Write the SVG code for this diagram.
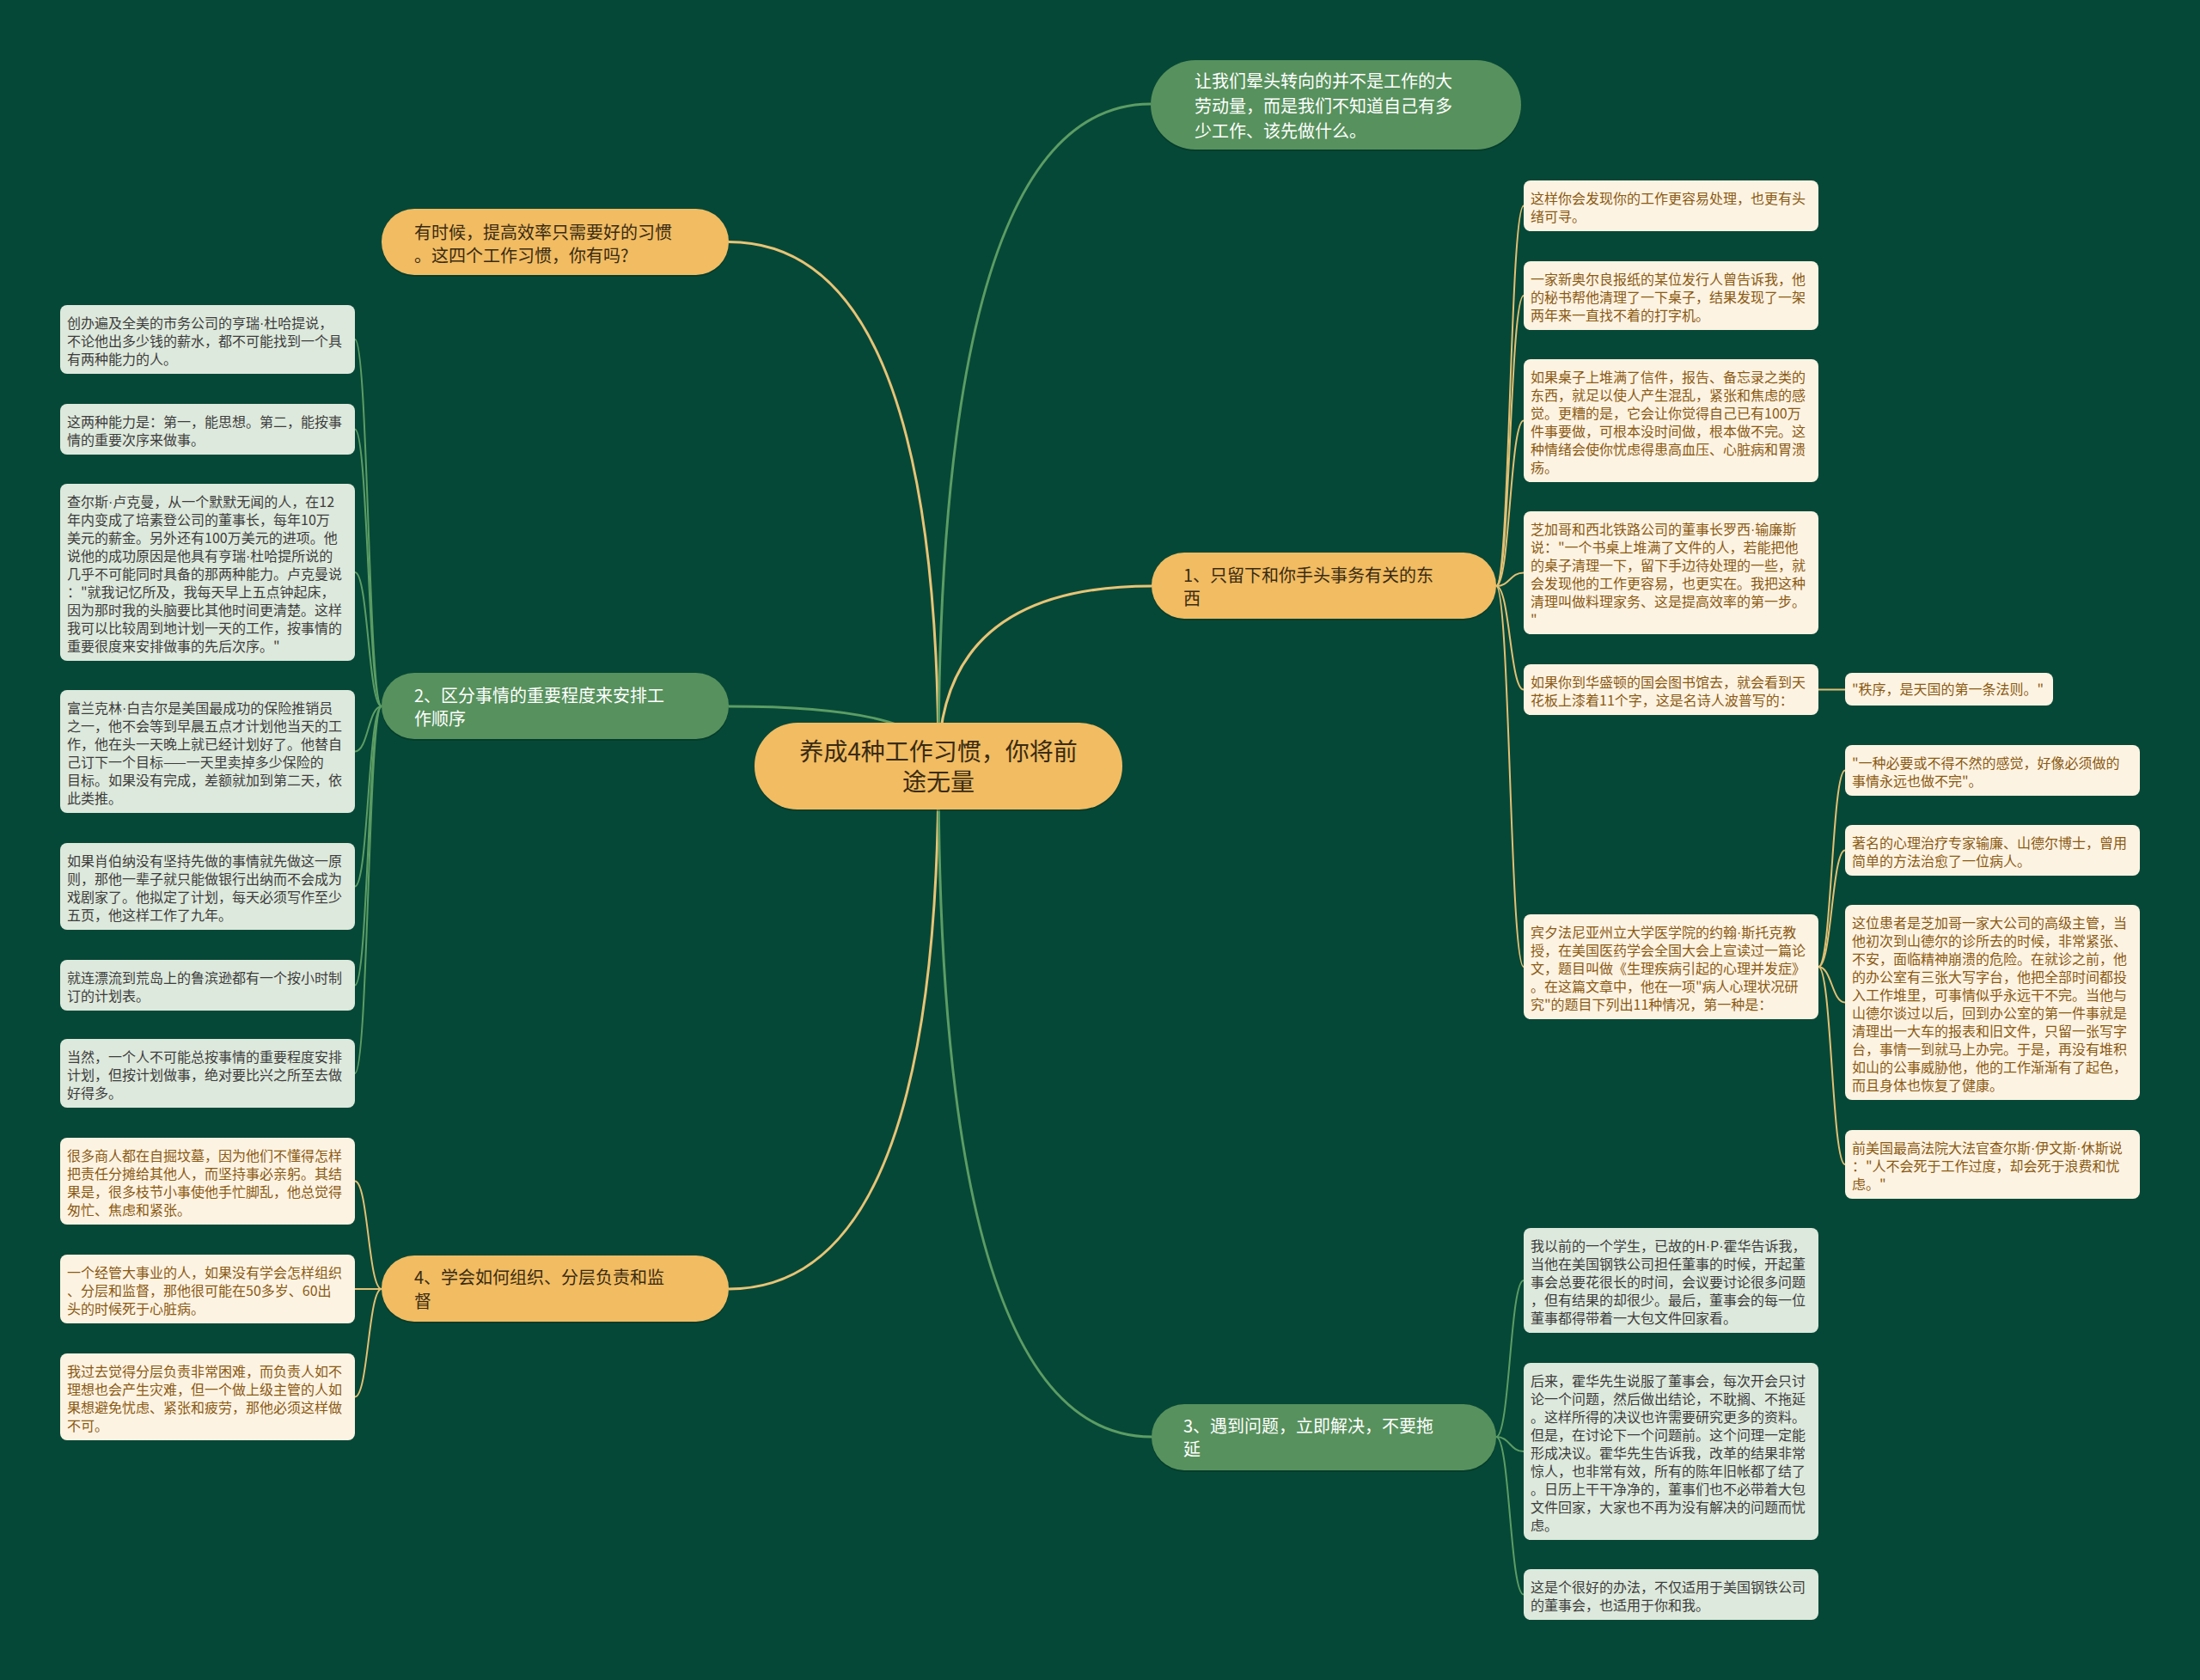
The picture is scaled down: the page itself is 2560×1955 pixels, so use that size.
<svg xmlns="http://www.w3.org/2000/svg" width="2560" height="1955" viewBox="0 0 2560 1955">
<style>
.bg{fill:#064837}
.nO{fill:#f1bc62}
.nG{fill:#57915d}
.sh{fill:#03301f;opacity:0.45}
.bxG{fill:#dde9dc}
.bxC{fill:#fdf3e2}
text{font-family:"Noto Sans CJK SC","Noto Sans",sans-serif}
.d{font-family:"Liberation Sans",sans-serif}
.tM{font-size:20px;fill:#3a2b12}
.tW{font-size:20px;fill:#ffffff}
.tR{font-size:28px;fill:#3a2b12}
.tG{font-size:16px;fill:#3d3d3d}
.tC{font-size:16px;fill:#8a5a14}
.cY{fill:none;stroke:#e7c476;stroke-width:3}
.cG{fill:none;stroke:#5c9d64;stroke-width:3}
.lY{fill:none;stroke:#e2c074;stroke-width:2}
.lG{fill:none;stroke:#5c9d64;stroke-width:2}
</style>
<rect class="bg" x="0" y="0" width="2560" height="1955"/>
<g id="connectors">
<path class="cY" d="M1092,891 Q1092,281.5 848,281.5"/>
<path class="cG" d="M1092,891 Q1092,121 1339,121"/>
<path class="cY" d="M1092,891 Q1092,682 1340,682"/>
<path class="cG" d="M1092,891 Q1092,822 848,822"/>
<path class="cY" d="M1092,891 Q1092,1500 848,1500"/>
<path class="cG" d="M1092,891 Q1092,1672 1340,1672"/>
<path class="lG" d="M444,822 C428.5,822 428.5,395 413,395"/>
<path class="lG" d="M444,822 C428.5,822 428.5,499.5 413,499.5"/>
<path class="lG" d="M444,822 C428.5,822 428.5,666 413,666"/>
<path class="lG" d="M444,822 C428.5,822 428.5,874.5 413,874.5"/>
<path class="lG" d="M444,822 C428.5,822 428.5,1031.5 413,1031.5"/>
<path class="lG" d="M444,822 C428.5,822 428.5,1146.5 413,1146.5"/>
<path class="lG" d="M444,822 C428.5,822 428.5,1249 413,1249"/>
<path class="lY" d="M444,1500 C428.5,1500 428.5,1374.5 413,1374.5"/>
<path class="lY" d="M444,1500 C428.5,1500 428.5,1500 413,1500"/>
<path class="lY" d="M444,1500 C428.5,1500 428.5,1625.5 413,1625.5"/>
<path class="lY" d="M1741,682 C1757,682 1757,239.5 1773,239.5"/>
<path class="lY" d="M1741,682 C1757,682 1757,344 1773,344"/>
<path class="lY" d="M1741,682 C1757,682 1757,489.5 1773,489.5"/>
<path class="lY" d="M1741,682 C1757,682 1757,666.5 1773,666.5"/>
<path class="lY" d="M1741,682 C1757,682 1757,802.5 1773,802.5"/>
<path class="lY" d="M1741,682 C1757,682 1757,1125 1773,1125"/>
<path class="lY" d="M2116,802.5 L2147,802.5"/>
<path class="lY" d="M2116,1125 C2131.5,1125 2131.5,896.5 2147,896.5"/>
<path class="lY" d="M2116,1125 C2131.5,1125 2131.5,989.5 2147,989.5"/>
<path class="lY" d="M2116,1125 C2131.5,1125 2131.5,1166.5 2147,1166.5"/>
<path class="lY" d="M2116,1125 C2131.5,1125 2131.5,1355 2147,1355"/>
<path class="lG" d="M1741,1672 C1757,1672 1757,1490 1773,1490"/>
<path class="lG" d="M1741,1672 C1757,1672 1757,1689 1773,1689"/>
<path class="lG" d="M1741,1672 C1757,1672 1757,1855.5 1773,1855.5"/>
</g>

<g id="root">
<rect class="sh" x="878" y="843" width="428" height="101" rx="50"/>
<rect class="nO" x="878" y="841" width="428" height="101" rx="50"/>
<text class="tR" x="1092" y="885" text-anchor="middle">养成4种工作习惯，你将前</text>
<text class="tR" x="1092" y="920" text-anchor="middle">途无量</text>
</g>

<g id="n-top">
<rect class="sh" x="1339" y="72" width="431" height="104" rx="52"/>
<rect class="nG" x="1339" y="70" width="431" height="104" rx="52"/>
<text class="tW" x="1390" y="102">让我们晕头转向的并不是工作的大</text>
<text class="tW" x="1390" y="131">劳动量，而是我们不知道自己有多</text>
<text class="tW" x="1390" y="160">少工作、该先做什么。</text>
</g>

<g id="n-intro">
<rect class="sh" x="444" y="245" width="404" height="77" rx="38"/>
<rect class="nO" x="444" y="243" width="404" height="77" rx="38"/>
<text class="tM" x="482" y="278">有时候，提高效率只需要好的习惯</text>
<text class="tM" x="482" y="305">。这四个工作习惯，你有吗?</text>
</g>

<g id="n1">
<rect class="sh" x="1340" y="645" width="401" height="77" rx="38"/>
<rect class="nO" x="1340" y="643" width="401" height="77" rx="38"/>
<text class="tM" x="1377" y="677">1、只留下和你手头事务有关的东</text>
<text class="tM" x="1377" y="704">西</text>
</g>

<g id="n2">
<rect class="sh" x="444" y="785" width="404" height="77" rx="38"/>
<rect class="nG" x="444" y="783" width="404" height="77" rx="38"/>
<text class="tW" x="482" y="817">2、区分事情的重要程度来安排工</text>
<text class="tW" x="482" y="844">作顺序</text>
</g>

<g id="n4">
<rect class="sh" x="444" y="1463" width="404" height="77" rx="38"/>
<rect class="nO" x="444" y="1461" width="404" height="77" rx="38"/>
<text class="tM" x="482" y="1494">4、学会如何组织、分层负责和监</text>
<text class="tM" x="482" y="1522">督</text>
</g>

<g id="n3">
<rect class="sh" x="1340" y="1636" width="401" height="77" rx="38"/>
<rect class="nG" x="1340" y="1634" width="401" height="77" rx="38"/>
<text class="tW" x="1377" y="1667">3、遇到问题，立即解决，不要拖</text>
<text class="tW" x="1377" y="1694">延</text>
</g>

<g id="L1">
<rect class="bxG" x="70" y="355" width="343" height="80" rx="8"/>
<text class="tG" x="78" y="382">创办遍及全美的市务公司的亨瑞<tspan class="d">·</tspan>杜哈提说，</text>
<text class="tG" x="78" y="403">不论他出多少钱的薪水，都不可能找到一个具</text>
<text class="tG" x="78" y="424">有两种能力的人。</text>
</g>
<g id="L2">
<rect class="bxG" x="70" y="470" width="343" height="59" rx="8"/>
<text class="tG" x="78" y="497">这两种能力是：第一，能思想。第二，能按事</text>
<text class="tG" x="78" y="518">情的重要次序来做事。</text>
</g>
<g id="L3">
<rect class="bxG" x="70" y="563" width="343" height="206" rx="8"/>
<text class="tG" x="78" y="590">查尔斯<tspan class="d">·</tspan>卢克曼，从一个默默无闻的人，在12</text>
<text class="tG" x="78" y="611">年内变成了培素登公司的董事长，每年10万</text>
<text class="tG" x="78" y="632">美元的薪金。另外还有100万美元的进项。他</text>
<text class="tG" x="78" y="653">说他的成功原因是他具有亨瑞<tspan class="d">·</tspan>杜哈提所说的</text>
<text class="tG" x="78" y="674">几乎不可能同时具备的那两种能力。卢克曼说</text>
<text class="tG" x="78" y="695">："就我记忆所及，我每天早上五点钟起床，</text>
<text class="tG" x="78" y="716">因为那时我的头脑要比其他时间更清楚。这样</text>
<text class="tG" x="78" y="737">我可以比较周到地计划一天的工作，按事情的</text>
<text class="tG" x="78" y="758">重要很度来安排做事的先后次序。"</text>
</g>
<g id="L4">
<rect class="bxG" x="70" y="803" width="343" height="143" rx="8"/>
<text class="tG" x="78" y="830">富兰克林<tspan class="d">·</tspan>白吉尔是美国最成功的保险推销员</text>
<text class="tG" x="78" y="851">之一，他不会等到早晨五点才计划他当天的工</text>
<text class="tG" x="78" y="872">作，他在头一天晚上就已经计划好了。他替自</text>
<text class="tG" x="78" y="893">己订下一个目标——一天里卖掉多少保险的</text>
<text class="tG" x="78" y="914">目标。如果没有完成，差额就加到第二天，依</text>
<text class="tG" x="78" y="935">此类推。</text>
</g>
<g id="L5">
<rect class="bxG" x="70" y="981" width="343" height="101" rx="8"/>
<text class="tG" x="78" y="1008">如果肖伯纳没有坚持先做的事情就先做这一原</text>
<text class="tG" x="78" y="1029">则，那他一辈子就只能做银行出纳而不会成为</text>
<text class="tG" x="78" y="1050">戏剧家了。他拟定了计划，每天必须写作至少</text>
<text class="tG" x="78" y="1071">五页，他这样工作了九年。</text>
</g>
<g id="L6">
<rect class="bxG" x="70" y="1117" width="343" height="59" rx="8"/>
<text class="tG" x="78" y="1144">就连漂流到荒岛上的鲁滨逊都有一个按小时制</text>
<text class="tG" x="78" y="1165">订的计划表。</text>
</g>
<g id="L7">
<rect class="bxG" x="70" y="1209" width="343" height="80" rx="8"/>
<text class="tG" x="78" y="1236">当然，一个人不可能总按事情的重要程度安排</text>
<text class="tG" x="78" y="1257">计划，但按计划做事，绝对要比兴之所至去做</text>
<text class="tG" x="78" y="1278">好得多。</text>
</g>

<g id="A1">
<rect class="bxC" x="70" y="1324" width="343" height="101" rx="8"/>
<text class="tC" x="78" y="1351">很多商人都在自掘坟墓，因为他们不懂得怎样</text>
<text class="tC" x="78" y="1372">把责任分摊给其他人，而坚持事必亲躬。其结</text>
<text class="tC" x="78" y="1393">果是，很多枝节小事使他手忙脚乱，他总觉得</text>
<text class="tC" x="78" y="1414">匆忙、焦虑和紧张。</text>
</g>
<g id="A2">
<rect class="bxC" x="70" y="1460" width="343" height="80" rx="8"/>
<text class="tC" x="78" y="1487">一个经管大事业的人，如果没有学会怎样组织</text>
<text class="tC" x="78" y="1508">、分层和监督，那他很可能在50多岁、60出</text>
<text class="tC" x="78" y="1529">头的时候死于心脏病。</text>
</g>
<g id="A3">
<rect class="bxC" x="70" y="1575" width="343" height="101" rx="8"/>
<text class="tC" x="78" y="1602">我过去觉得分层负责非常困难，而负责人如不</text>
<text class="tC" x="78" y="1623">理想也会产生灾难，但一个做上级主管的人如</text>
<text class="tC" x="78" y="1644">果想避免忧虑、紧张和疲劳，那他必须这样做</text>
<text class="tC" x="78" y="1665">不可。</text>
</g>

<g id="R1">
<rect class="bxC" x="1773" y="210" width="343" height="59" rx="8"/>
<text class="tC" x="1781" y="237">这样你会发现你的工作更容易处理，也更有头</text>
<text class="tC" x="1781" y="258">绪可寻。</text>
</g>
<g id="R2">
<rect class="bxC" x="1773" y="304" width="343" height="80" rx="8"/>
<text class="tC" x="1781" y="331">一家新奥尔良报纸的某位发行人曾告诉我，他</text>
<text class="tC" x="1781" y="352">的秘书帮他清理了一下桌子，结果发现了一架</text>
<text class="tC" x="1781" y="373">两年来一直找不着的打字机。</text>
</g>
<g id="R3">
<rect class="bxC" x="1773" y="418" width="343" height="143" rx="8"/>
<text class="tC" x="1781" y="445">如果桌子上堆满了信件，报告、备忘录之类的</text>
<text class="tC" x="1781" y="466">东西，就足以使人产生混乱，紧张和焦虑的感</text>
<text class="tC" x="1781" y="487">觉。更糟的是，它会让你觉得自己已有100万</text>
<text class="tC" x="1781" y="508">件事要做，可根本没时间做，根本做不完。这</text>
<text class="tC" x="1781" y="529">种情绪会使你忧虑得患高血压、心脏病和胃溃</text>
<text class="tC" x="1781" y="550">疡。</text>
</g>
<g id="R4">
<rect class="bxC" x="1773" y="595" width="343" height="143" rx="8"/>
<text class="tC" x="1781" y="622">芝加哥和西北铁路公司的董事长罗西<tspan class="d">·</tspan>输廉斯</text>
<text class="tC" x="1781" y="643">说："一个书桌上堆满了文件的人，若能把他</text>
<text class="tC" x="1781" y="664">的桌子清理一下，留下手边待处理的一些，就</text>
<text class="tC" x="1781" y="685">会发现他的工作更容易，也更实在。我把这种</text>
<text class="tC" x="1781" y="706">清理叫做料理家务、这是提高效率的第一步。</text>
<text class="tC" x="1781" y="727">"</text>
</g>
<g id="R5">
<rect class="bxC" x="1773" y="773" width="343" height="59" rx="8"/>
<text class="tC" x="1781" y="800">如果你到华盛顿的国会图书馆去，就会看到天</text>
<text class="tC" x="1781" y="821">花板上漆着11个字，这是名诗人波普写的：</text>
</g>
<g id="R5c">
<rect class="bxC" x="2147" y="783" width="242" height="38" rx="8"/>
<text class="tC" x="2155" y="808">"秩序，是天国的第一条法则。"</text>
</g>
<g id="R6">
<rect class="bxC" x="1773" y="1064" width="343" height="122" rx="8"/>
<text class="tC" x="1781" y="1091">宾夕法尼亚州立大学医学院的约翰<tspan class="d">·</tspan>斯托克教</text>
<text class="tC" x="1781" y="1112">授，在美国医药学会全国大会上宣读过一篇论</text>
<text class="tC" x="1781" y="1133">文，题目叫做《生理疾病引起的心理并发症》</text>
<text class="tC" x="1781" y="1154">。在这篇文章中，他在一项"病人心理状况研</text>
<text class="tC" x="1781" y="1175">究"的题目下列出11种情况，第一种是：</text>
</g>
<g id="C1">
<rect class="bxC" x="2147" y="867" width="343" height="59" rx="8"/>
<text class="tC" x="2155" y="894">"一种必要或不得不然的感觉，好像必须做的</text>
<text class="tC" x="2155" y="915">事情永远也做不完"。</text>
</g>
<g id="C2">
<rect class="bxC" x="2147" y="960" width="343" height="59" rx="8"/>
<text class="tC" x="2155" y="987">著名的心理治疗专家输廉、山德尔博士，曾用</text>
<text class="tC" x="2155" y="1008">简单的方法治愈了一位病人。</text>
</g>
<g id="C3">
<rect class="bxC" x="2147" y="1053" width="343" height="227" rx="8"/>
<text class="tC" x="2155" y="1080">这位患者是芝加哥一家大公司的高级主管，当</text>
<text class="tC" x="2155" y="1101">他初次到山德尔的诊所去的时候，非常紧张、</text>
<text class="tC" x="2155" y="1122">不安，面临精神崩溃的危险。在就诊之前，他</text>
<text class="tC" x="2155" y="1143">的办公室有三张大写字台，他把全部时间都投</text>
<text class="tC" x="2155" y="1164">入工作堆里，可事情似乎永远干不完。当他与</text>
<text class="tC" x="2155" y="1185">山德尔谈过以后，回到办公室的第一件事就是</text>
<text class="tC" x="2155" y="1206">清理出一大车的报表和旧文件，只留一张写字</text>
<text class="tC" x="2155" y="1227">台，事情一到就马上办完。于是，再没有堆积</text>
<text class="tC" x="2155" y="1248">如山的公事威胁他，他的工作渐渐有了起色，</text>
<text class="tC" x="2155" y="1269">而且身体也恢复了健康。</text>
</g>
<g id="C4">
<rect class="bxC" x="2147" y="1315" width="343" height="80" rx="8"/>
<text class="tC" x="2155" y="1342">前美国最高法院大法官查尔斯<tspan class="d">·</tspan>伊文斯<tspan class="d">·</tspan>休斯说</text>
<text class="tC" x="2155" y="1363">："人不会死于工作过度，却会死于浪费和忧</text>
<text class="tC" x="2155" y="1384">虑。"</text>
</g>

<g id="B1">
<rect class="bxG" x="1773" y="1429" width="343" height="122" rx="8"/>
<text class="tG" x="1781" y="1456">我以前的一个学生，已故的H<tspan class="d">·</tspan>P<tspan class="d">·</tspan>霍华告诉我，</text>
<text class="tG" x="1781" y="1477">当他在美国钢铁公司担任董事的时候，开起董</text>
<text class="tG" x="1781" y="1498">事会总要花很长的时间，会议要讨论很多问题</text>
<text class="tG" x="1781" y="1519">，但有结果的却很少。最后，董事会的每一位</text>
<text class="tG" x="1781" y="1540">董事都得带着一大包文件回家看。</text>
</g>
<g id="B2">
<rect class="bxG" x="1773" y="1586" width="343" height="206" rx="8"/>
<text class="tG" x="1781" y="1613">后来，霍华先生说服了董事会，每次开会只讨</text>
<text class="tG" x="1781" y="1634">论一个问题，然后做出结论，不耽搁、不拖延</text>
<text class="tG" x="1781" y="1655">。这样所得的决议也许需要研究更多的资料。</text>
<text class="tG" x="1781" y="1676">但是，在讨论下一个问题前。这个问理一定能</text>
<text class="tG" x="1781" y="1697">形成决议。霍华先生告诉我，改革的结果非常</text>
<text class="tG" x="1781" y="1718">惊人，也非常有效，所有的陈年旧帐都了结了</text>
<text class="tG" x="1781" y="1739">。日历上干干净净的，董事们也不必带着大包</text>
<text class="tG" x="1781" y="1760">文件回家，大家也不再为没有解决的问题而忧</text>
<text class="tG" x="1781" y="1781">虑。</text>
</g>
<g id="B3">
<rect class="bxG" x="1773" y="1826" width="343" height="59" rx="8"/>
<text class="tG" x="1781" y="1853">这是个很好的办法，不仅适用于美国钢铁公司</text>
<text class="tG" x="1781" y="1874">的董事会，也适用于你和我。</text>
</g>
</svg>
